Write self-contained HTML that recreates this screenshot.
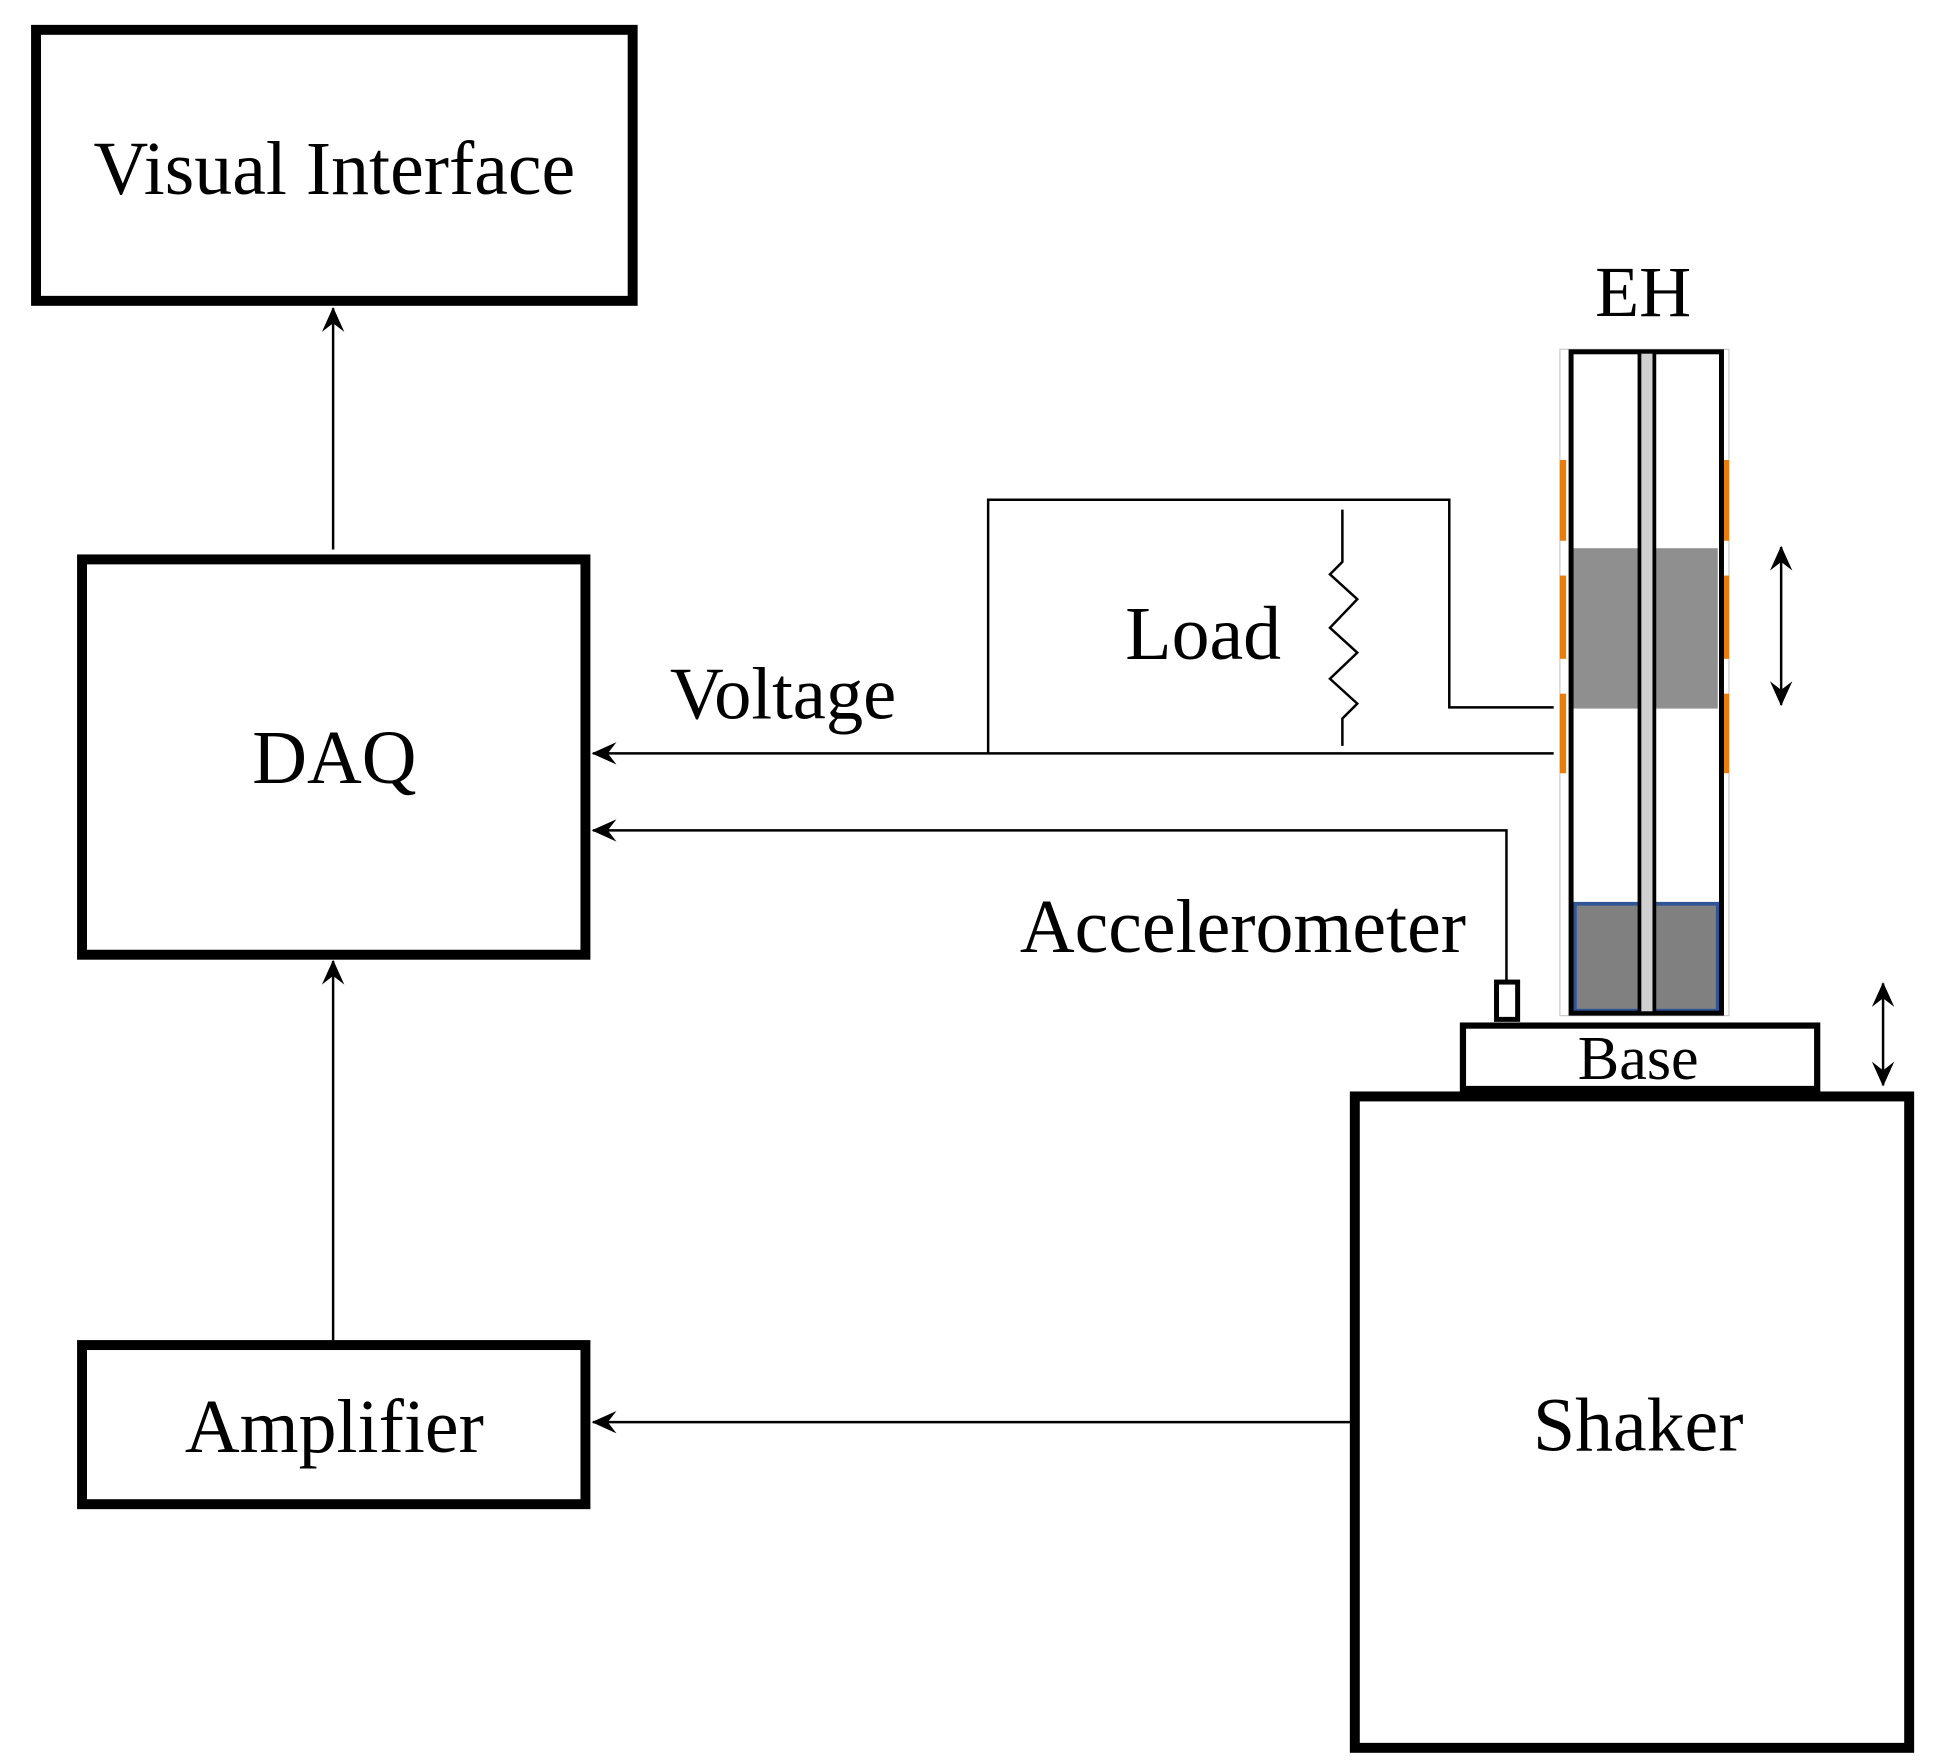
<!DOCTYPE html>
<html><head><style>html,body{margin:0;padding:0;background:#fff}svg{display:block}</style></head><body>
<svg width="1939" height="1764" viewBox="0 0 1560 1419" preserveAspectRatio="none" xmlns="http://www.w3.org/2000/svg" font-family="Liberation Serif, serif">
<defs>
<marker id="ah" viewBox="0 0 20 20" refX="19" refY="10" markerWidth="20" markerHeight="20" markerUnits="userSpaceOnUse" orient="auto-start-reverse">
<path d="M20,10 L0,1 L7,10 L0,19 Z" fill="#000"/></marker>
</defs>
<rect x="29" y="24" width="480" height="218" fill="none" stroke="#000" stroke-width="8"/>
<text x="269" y="156" font-size="61" text-anchor="middle">Visual Interface</text>
<rect x="66" y="450" width="405" height="318" fill="none" stroke="#000" stroke-width="8"/>
<text x="269" y="630" font-size="61" text-anchor="middle">DAQ</text>
<rect x="66" y="1082" width="405" height="128" fill="none" stroke="#000" stroke-width="8"/>
<text x="269" y="1168" font-size="61" text-anchor="middle">Amplifier</text>
<g stroke="#000" stroke-width="2" fill="none">
<line x1="268" y1="442" x2="268" y2="248" marker-end="url(#ah)"/>
<line x1="268" y1="1078" x2="268" y2="773" marker-end="url(#ah)"/>
<line x1="1092" y1="1144" x2="477" y2="1144" marker-end="url(#ah)"/>
<line x1="1250" y1="606" x2="477" y2="606" marker-end="url(#ah)"/>
<polyline points="795,606 795,402 1166,402 1166,569 1250,569"/>
<polyline points="1080,410 1080,452 1070,462 1092,482 1070,505 1092,525 1070,546 1092,566 1080,578 1080,600"/>
<polyline points="1212,790 1212,668 477,668" marker-end="url(#ah)"/>
</g>
<rect x="1204" y="790" width="17" height="30" fill="#fff" stroke="#000" stroke-width="4"/>
<text x="630" y="578" font-size="60" text-anchor="middle">Voltage</text>
<text x="968" y="530" font-size="61" text-anchor="middle">Load</text>
<text x="1000" y="766" font-size="61" text-anchor="middle">Accelerometer</text>
<g transform="translate(-6,-4)">
<rect x="1096" y="886" width="446" height="524" fill="none" stroke="#000" stroke-width="8"/>
<text x="1324" y="1171" font-size="61" text-anchor="middle">Shaker</text>
<rect x="1183" y="829" width="285" height="51" fill="none" stroke="#000" stroke-width="5"/>
<text x="1324" y="872" font-size="50" text-anchor="middle">Base</text>
<text x="1328" y="258" font-size="58" text-anchor="middle">EH</text>
<rect x="1261" y="285" width="136" height="536" fill="none" stroke="#ccc" stroke-width="1"/>
<g fill="#e87c0c">
<rect x="1261" y="374" width="5" height="65"/><rect x="1261" y="467" width="5" height="67"/><rect x="1261" y="562" width="5" height="64"/>
<rect x="1392" y="374" width="5" height="65"/><rect x="1392" y="467" width="5" height="67"/><rect x="1392" y="562" width="5" height="64"/>
</g>
<rect x="1271" y="445" width="117" height="129" fill="#8f8f8f"/>
<rect x="1273" y="731" width="115" height="86" fill="#808080" stroke="#2f5597" stroke-width="3"/>
<rect x="1270" y="287" width="121" height="532" fill="none" stroke="#000" stroke-width="4"/>
<rect x="1325" y="287" width="12" height="532" fill="#d0d0d0" stroke="#000" stroke-width="3"/>
<g stroke="#000" stroke-width="2">
<line x1="1439" y1="444" x2="1439" y2="571" marker-start="url(#ah)" marker-end="url(#ah)"/>
<line x1="1521" y1="795" x2="1521" y2="877" marker-start="url(#ah)" marker-end="url(#ah)"/>
</g>
</g>
</svg>
</body></html>
